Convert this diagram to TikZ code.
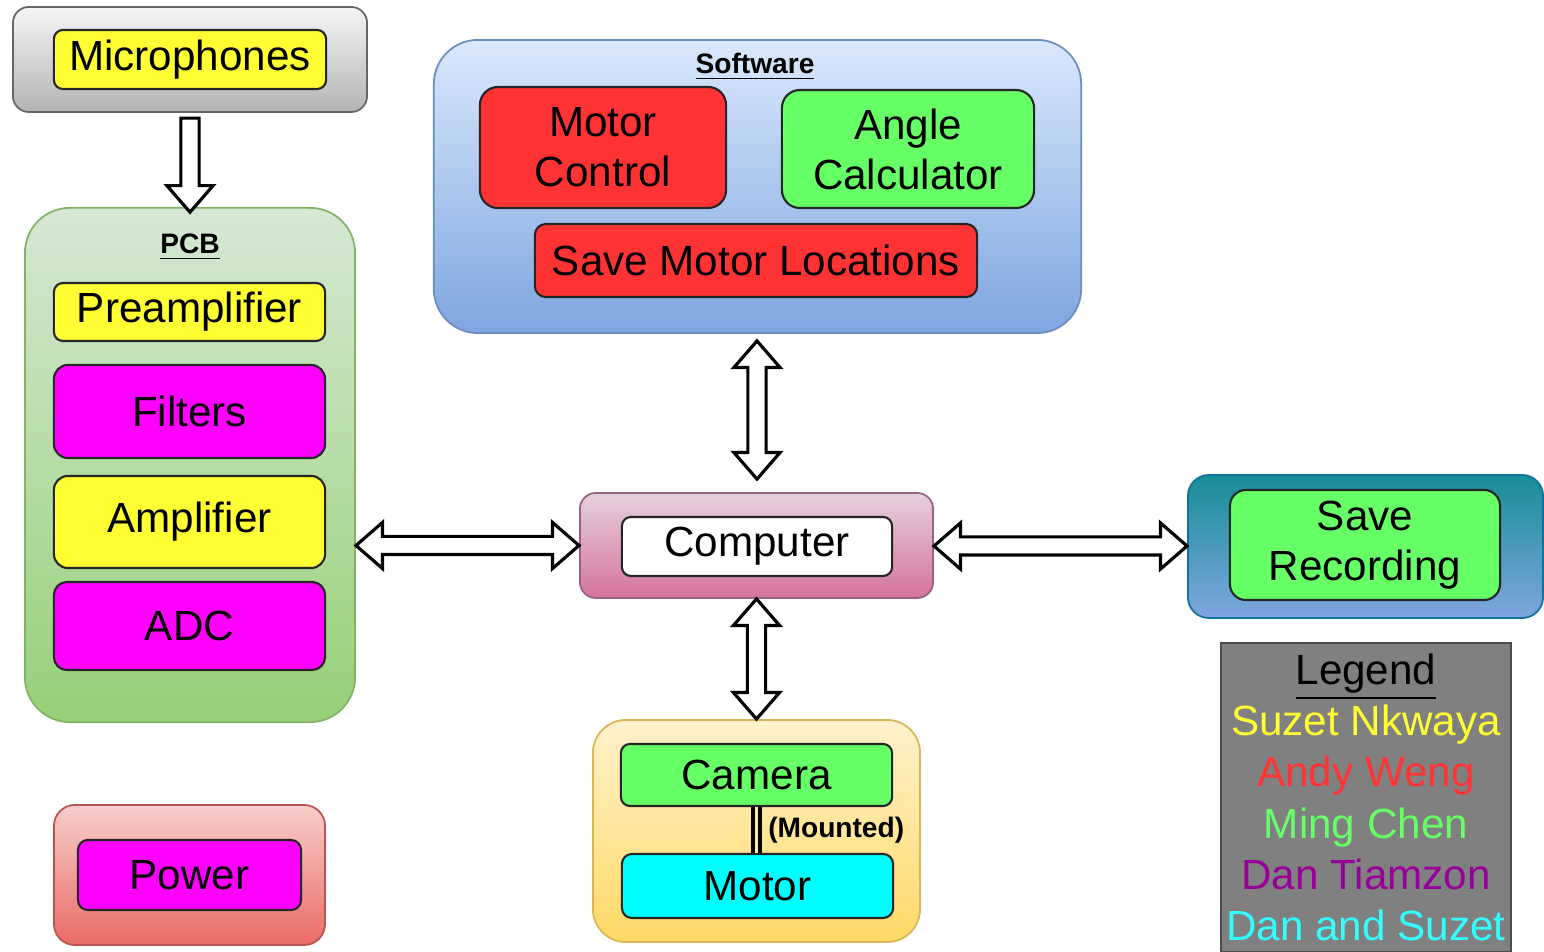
\documentclass[tikz,border=0pt]{standalone}
\usepackage{fontspec}
\setmainfont{Liberation Sans}
\usepackage{xcolor}
\usepackage{tikz}
\usetikzlibrary{shapes.arrows,calc}

\definecolor{boxyellow}{HTML}{FFFF33}
\definecolor{boxred}{HTML}{FF3333}
\definecolor{boxgreen}{HTML}{66FF66}
\definecolor{boxmagenta}{HTML}{FF00FF}
\definecolor{boxcyan}{HTML}{00FFFF}
\definecolor{legpurple}{HTML}{990099}
\definecolor{legcyan}{HTML}{33FFFF}
\definecolor{pcbtop}{HTML}{D5E8D4}
\definecolor{pcbbot}{HTML}{97D077}
\definecolor{pcbline}{HTML}{82B366}
\definecolor{softtop}{HTML}{DAE8FC}
\definecolor{softbot}{HTML}{7EA6E0}
\definecolor{softline}{HTML}{6C8EBF}
\definecolor{comptop}{HTML}{E6D0DE}
\definecolor{compbot}{HTML}{D5739D}
\definecolor{compline}{HTML}{996185}
\definecolor{camtop}{HTML}{FFF2CC}
\definecolor{cambot}{HTML}{FFD966}
\definecolor{camline}{HTML}{D6B656}
\definecolor{powtop}{HTML}{F8CECC}
\definecolor{powbot}{HTML}{EA6B66}
\definecolor{powline}{HTML}{B85450}
\definecolor{rectop}{HTML}{178E96}
\definecolor{recbot}{HTML}{7EA6E0}
\definecolor{recline}{HTML}{10739E}
\definecolor{mictop}{HTML}{F5F5F5}
\definecolor{micbot}{HTML}{B3B3B3}
\definecolor{micline}{HTML}{666666}

\newcommand{\blockarrow}[3]{%
  \path let \p1=(#2), \p2=(#3), \n1={veclen(\x2-\x1,\y2-\y1)} in
    node[#1, minimum height=\n1] at ($(\p1)!0.5!(\p2)$) {};}

\begin{document}
\begin{tikzpicture}[x=0.01cm, y=-0.01cm,
  group/.style n args={4}{rectangle, rounded corners=#1, draw=#2, top color=#3, bottom color=#4, line width=0.5pt, inner sep=0pt},
  box/.style={rectangle, rounded corners=0.09cm, draw=black!85, line width=0.6pt, inner sep=0pt, align=center, font=\fontsize{12}{14.2}\selectfont},
  title/.style={font=\bfseries\fontsize{8}{9.6}\selectfont},
  onearrow/.style={single arrow, draw, fill=white, line width=0.9pt, inner xsep=0pt, inner ysep=0.075cm, single arrow head extend=0.14cm, single arrow tip angle=82},
  twoarrow/.style={double arrow, draw, fill=white, line width=0.9pt, inner xsep=0pt, inner ysep=0.075cm, double arrow head extend=0.14cm, double arrow tip angle=82},
  mountline/.style={draw=black, double=camtop!60!cambot, double distance=0.03cm, line width=0.035cm},
  legend/.style={rectangle, fill=black!50, draw=black!70, line width=0.5pt, inner sep=0pt, minimum width=2.90cm, minimum height=3.09cm, align=center, font=\fontsize{12}{14.6}\selectfont}]
\path[use as bounding box, fill=white] (0,0) rectangle (1544,952);

\node[group={0.16cm}{micline}{mictop}{micbot}, minimum width=3.54cm, minimum height=1.05cm] (mic) at (190,59.5) {};
\node[box, fill=boxyellow, minimum width=2.72cm, minimum height=0.59cm] (micin) at (mic) {Microphones};

\node[group={0.45cm}{pcbline}{pcbtop}{pcbbot}, minimum width=3.30cm, minimum height=5.14cm] (pcb) at (190,465) {};
\node[title] (pcbtitle) at (190,247) {\underline{PCB}};
\node[box, fill=boxyellow, minimum width=2.71cm, minimum height=0.58cm] (pre) at (189.5,312) {Preamplifier};
\node[box, fill=boxmagenta, rounded corners=0.14cm, minimum width=2.71cm, minimum height=0.93cm] (filt) at (189.5,411.5) {Filters};
\node[box, fill=boxyellow, rounded corners=0.14cm, minimum width=2.71cm, minimum height=0.92cm] (amp) at (189.5,522) {Amplifier};
\node[box, fill=boxmagenta, rounded corners=0.13cm, minimum width=2.71cm, minimum height=0.88cm] (adc) at (189.5,626) {ADC};

\node[group={0.21cm}{powline}{powtop}{powbot}, minimum width=2.71cm, minimum height=1.40cm] (power) at (189.5,875) {};
\node[box, fill=boxmagenta, rounded corners=0.10cm, minimum width=2.23cm, minimum height=0.70cm] (powerin) at (power) {Power};

\node[group={0.44cm}{softline}{softtop}{softbot}, minimum width=6.47cm, minimum height=2.93cm] (soft) at (757.5,186.5) {};
\node[title] (softtitle) at (755,67) {\underline{Software}};
\node[box, fill=boxred, rounded corners=0.18cm, minimum width=2.46cm, minimum height=1.21cm] (motctl) at (603,147.5) {Motor\\Control};
\node[box, fill=boxgreen, rounded corners=0.18cm, minimum width=2.52cm, minimum height=1.18cm] (angle) at (908,149) {Angle\\Calculator};
\node[box, fill=boxred, rounded corners=0.11cm, minimum width=4.42cm, minimum height=0.73cm] (savemot) at (756,260.5) {Save Motor Locations};

\node[group={0.16cm}{compline}{comptop}{compbot}, minimum width=3.53cm, minimum height=1.05cm] (comp) at (756.5,545.5) {};
\node[box, fill=white, minimum width=2.70cm, minimum height=0.59cm] (compin) at (757,546.5) {Computer};

\node[group={0.21cm}{recline}{rectop}{recbot}, minimum width=3.55cm, minimum height=1.43cm] (rec) at (1365.5,546.5) {};
\node[box, fill=boxgreen, rounded corners=0.16cm, minimum width=2.70cm, minimum height=1.10cm] (recin) at (1365,545) {Save\\Recording};

\node[group={0.33cm}{camline}{camtop}{cambot}, minimum width=3.27cm, minimum height=2.22cm] (camgrp) at (756.5,831) {};
\node[box, fill=boxgreen, minimum width=2.71cm, minimum height=0.62cm] (cam) at (756.5,775) {Camera};
\node[box, fill=boxcyan, rounded corners=0.10cm, minimum width=2.71cm, minimum height=0.64cm] (mot) at (757.5,886) {Motor};
\draw[mountline] (cam.south) -- node[right, inner sep=0.1cm, font=\bfseries\fontsize{8}{9.6}\selectfont] {(Mounted)} (cam.south |- mot.north);

\node[legend] (leg) at (1366,797.5) {\underline{Legend}\\
  \textcolor{boxyellow}{Suzet Nkwaya}\\
  \textcolor{boxred}{Andy Weng}\\
  \textcolor{boxgreen}{Ming Chen}\\
  \textcolor{legpurple}{Dan Tiamzon}\\
  \textcolor{legcyan}{Dan and Suzet}};

\blockarrow{onearrow, rotate=-90}{mic.south}{pcb.north}
\blockarrow{twoarrow, rotate=90}{[yshift=-0.07cm]soft.south}{[yshift=0.13cm]comp.north}
\blockarrow{twoarrow}{pcb.east |- comp.west}{comp.west}
\blockarrow{twoarrow}{comp.east}{rec.west}
\blockarrow{twoarrow, rotate=90}{comp.south}{camgrp.north}
\end{tikzpicture}
\end{document}
